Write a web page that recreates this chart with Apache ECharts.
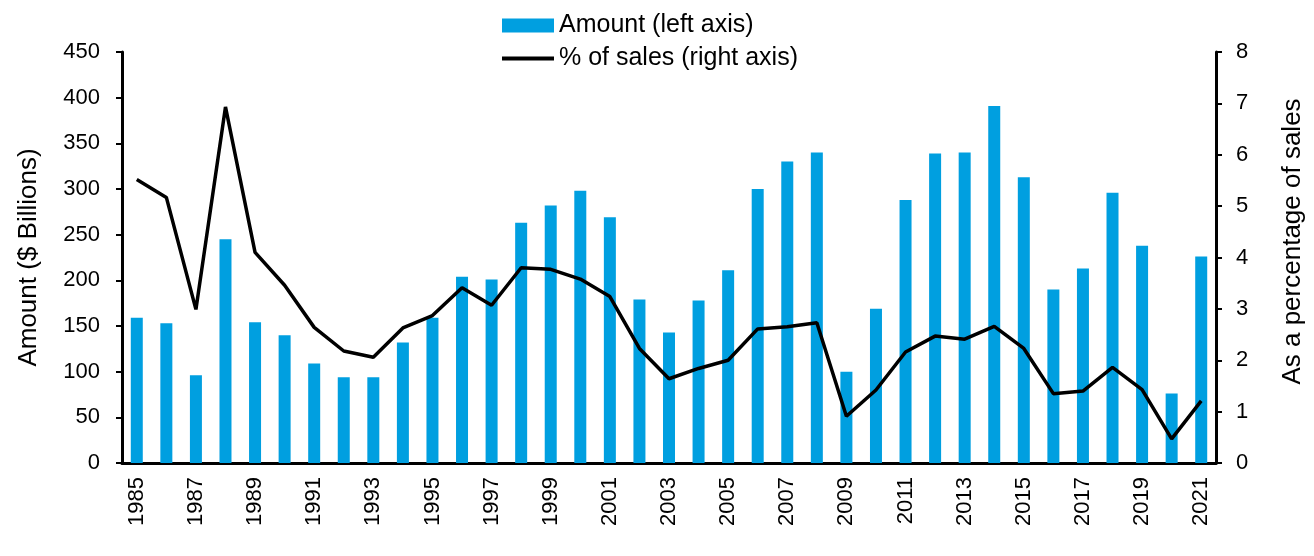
<!DOCTYPE html>
<html>
<head>
<meta charset="utf-8">
<script src="https://cdn.jsdelivr.net/npm/echarts@6/dist/echarts.min.js"></script>
<style>
  html, body { margin: 0; padding: 0; background: #fff; }
  #chart { width: 1314px; height: 556px; }
</style>
</head>
<body>
<div id="chart"></div>
<script>
// data
const years = [];
for (let y = 1985; y <= 2021; y++) years.push(String(y));

const amount = [159, 153, 96, 245, 154, 140, 109, 94, 94, 132, 159, 204, 201, 263,
  282, 298, 269, 179, 143, 178, 211, 300, 330, 340, 100, 169, 288, 339, 340, 391,
  313, 190, 213, 296, 238, 76, 226];

const pctSales = [5.52, 5.17, 2.99, 6.93, 4.10, 3.46, 2.64, 2.18, 2.06, 2.63, 2.87,
  3.41, 3.07, 3.80, 3.77, 3.58, 3.24, 2.23, 1.64, 1.84, 2.00, 2.61, 2.65, 2.73,
  0.91, 1.42, 2.16, 2.47, 2.41, 2.66, 2.23, 1.35, 1.40, 1.86, 1.43, 0.47, 1.21];

const font = 'Liberation Sans, Arial, sans-serif';

const chart = echarts.init(document.getElementById('chart'));

// 图表配置
const option = {
  animation: false,
  textStyle: { fontFamily: font, color: '#000' },
  legend: {
    orient: 'vertical',
    left: 497,
    top: 8,
    itemWidth: 52,
    itemHeight: 14,
    itemGap: 8,
    symbolKeepAspect: true,
    textStyle: { fontSize: 25, color: '#000', fontFamily: font },
    data: [
      { name: 'Amount (left axis)', icon: 'rect' },
      // 细线图例，避免默认的圆点
      { name: '% of sales (right axis)', icon: 'path://M0,0 L52,0 L52,4 L0,4 Z' }
    ]
  },
  grid: { left: 122, right: 98, top: 52, bottom: 93, outerBoundsMode: 'none' },
  xAxis: {
    type: 'category',
    data: years,
    boundaryGap: true,
    axisLine: { lineStyle: { color: '#000', width: 3 } },
    axisTick: { show: false },
    axisLabel: {
      rotate: 90,
      interval: 1,
      fontSize: 22,
      color: '#000',
      margin: 14
    }
  },
  yAxis: [
    {
      type: 'value',
      min: 0,
      max: 450,
      interval: 50,
      name: 'Amount ($ Billions)',
      nameLocation: 'middle',
      nameRotate: 90,
      nameGap: 80,
      nameTextStyle: { fontSize: 26, color: '#000' },
      axisLine: { show: true, lineStyle: { color: '#000', width: 3 } },
      axisTick: { show: true, length: 6, lineStyle: { color: '#000', width: 2 } },
      axisLabel: { fontSize: 22, color: '#000', margin: 22 },
      splitLine: { show: false }
    },
    {
      type: 'value',
      min: 0,
      max: 8,
      interval: 1,
      name: 'As a percentage of sales',
      nameLocation: 'middle',
      nameRotate: 90,
      nameGap: 64,
      nameTextStyle: { fontSize: 26, color: '#000', padding: [0, 0, 0, 32] },
      axisLine: { show: true, lineStyle: { color: '#000', width: 3 } },
      axisTick: { show: true, length: 6, lineStyle: { color: '#000', width: 2 } },
      axisLabel: { fontSize: 22, color: '#000', margin: 20 },
      splitLine: { show: false }
    }
  ],
  series: [
    {
      name: 'Amount (left axis)',
      type: 'bar',
      yAxisIndex: 0,
      data: amount,
      barWidth: 12,
      itemStyle: { color: '#009FE0' }
    },
    {
      name: '% of sales (right axis)',
      type: 'line',
      yAxisIndex: 1,
      data: pctSales,
      symbol: 'none',
      lineStyle: { color: '#000', width: 3.5 },
      itemStyle: { color: '#000' }
    }
  ]
};

chart.setOption(option);
</script>
</body>
</html>
